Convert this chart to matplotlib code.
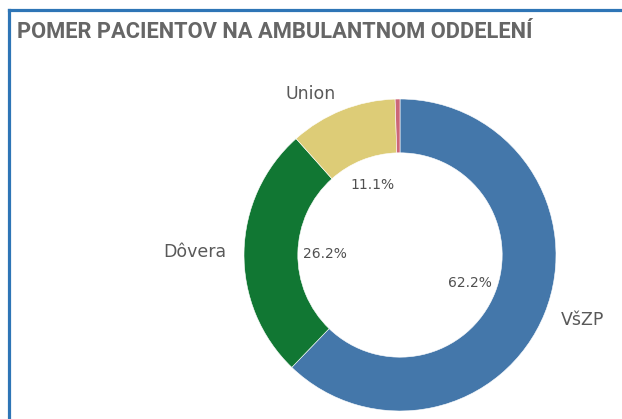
import matplotlib
matplotlib.use("Agg")
import matplotlib.pyplot as plt
from matplotlib.lines import Line2D

# data
poistovne = ['VšZP', 'Dôvera', 'Union', '']
podiel = [62.2, 26.2, 11.1, 0.5]
farby = ['#4477aa', '#117733', '#ddcc77', '#cc6677']

nazov = 'POMER PACIENTOV NA AMBULANTNOM ODDELENÍ'

fig = plt.figure(figsize=(6.22, 4.19), dpi=100)

# pie axes, centre ~ (400, 255) px, radius ~156 px
ax = fig.add_axes([(400 - 156) / 622, (419 - 411) / 419, 312 / 622, 312 / 419])


def pct_text(p):
    return '%.1f%%' % p if p >= 1 else ''


wedges, texts, autotexts = ax.pie(podiel, labels=poistovne, colors=farby,
                                  startangle=90, counterclock=False,
                                  autopct=pct_text, pctdistance=0.48,
                                  labeldistance=1.11,
                                  wedgeprops=dict(width=0.345, edgecolor='white', linewidth=0.4),
                                  textprops=dict(color='#595959', fontsize=12.5))
for t in autotexts:
    t.set_fontsize(10)
    t.set_color('#505050')
ax.set_xlim(-1, 1)
ax.set_ylim(-1, 1)
ax.set_aspect('equal')

# frame lines (top and left)
fig.add_artist(Line2D([9 / 622, 1], [1 - 10 / 419, 1 - 10 / 419], color='#2e75b6', lw=2.3,
                      transform=fig.transFigure))
fig.add_artist(Line2D([9 / 622, 9 / 622], [0, 1 - 10 / 419], color='#2e75b6', lw=2.3,
                      transform=fig.transFigure))

title = fig.text(17 / 622, 1 - 32 / 419, nazov, fontsize=17, fontweight='bold',
                 family=['Roboto', 'DejaVu Sans'], color='#666666', va='center', ha='left')

# shrink the title so it ends at about x = 533 px
r = fig.canvas.get_renderer()
w = title.get_window_extent(renderer=r).width
title.set_fontsize(17 * 516 / w)

plt.savefig('out.png', dpi=100)
